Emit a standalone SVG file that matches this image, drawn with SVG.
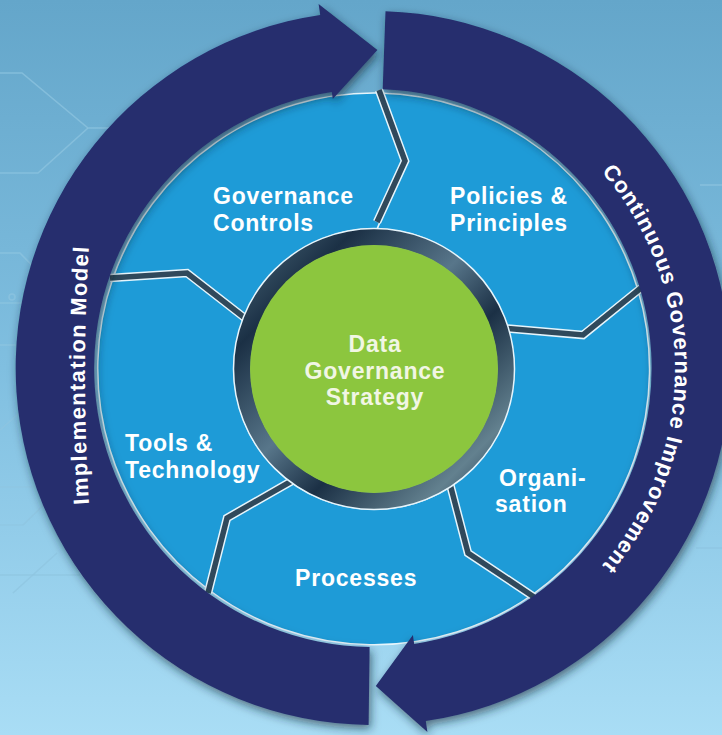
<svg xmlns="http://www.w3.org/2000/svg" width="722" height="735" viewBox="0 0 722 735">
  <defs>
    <linearGradient id="bg" x1="0" y1="0" x2="0" y2="1">
      <stop offset="0" stop-color="#64a6ca"/>
      <stop offset="0.5" stop-color="#80bfe0"/>
      <stop offset="1" stop-color="#a9ddf5"/>
    </linearGradient>
    <linearGradient id="metal" x1="0" y1="0" x2="1" y2="1">
      <stop offset="0" stop-color="#4c6a7c"/>
      <stop offset="0.2" stop-color="#1b3045"/>
      <stop offset="0.45" stop-color="#58768a"/>
      <stop offset="0.62" stop-color="#1b3045"/>
      <stop offset="0.85" stop-color="#63818f"/>
      <stop offset="1" stop-color="#1f354a"/>
    </linearGradient>
    <filter id="shadow" x="-20%" y="-20%" width="140%" height="140%">
      <feDropShadow dx="2" dy="4" stdDeviation="5" flood-color="#0b2535" flood-opacity="0.6"/>
    </filter>
    <path id="pLeft" d="M 89,505 A 2114 2114 0 0 1 89,245"/>
    <path id="pRight" d="M 567.5,138.4 A 301 301 0 0 1 567.5,599.6"/>
    <style>
      .circuit { fill: none; stroke: #8fc4e0; stroke-width: 1.6; opacity: 0.7; }
      .seg { fill: #1e9bd7; stroke: #e6f5fc; stroke-width: 1.5; stroke-linejoin: round; }
      .divw { fill: none; stroke: #e6f5fc; stroke-width: 8.5; stroke-linejoin: miter; }
      .divd { fill: none; stroke: #30495b; stroke-width: 5.5; stroke-linejoin: miter; }
      .arrow { fill: #252f6e; }
      .lbl { font-family: "Liberation Sans", Arial, sans-serif; font-weight: bold; font-size: 23px; letter-spacing: 0.8px; fill: #ffffff; }
      .ctr { font-family: "Liberation Sans", Arial, sans-serif; font-weight: bold; font-size: 23px; letter-spacing: 0.8px; fill: #f1f6e4; text-anchor: middle; }
      .arc { font-family: "Liberation Sans", Arial, sans-serif; font-weight: bold; font-size: 22px; fill: #ffffff; }
    </style>
  </defs>

  <g id="background">
    <rect x="0" y="0" width="722" height="735" fill="url(#bg)"/>
    <path class="circuit" d="M0,73 H22 L88,128 H114"/>
    <path class="circuit" d="M0,173 H38 L88,128"/>
    <path class="circuit" d="M0,253 H20 L46,280"/>
    <circle cx="12" cy="297" r="3" fill="none" stroke="#8fc4e0" stroke-width="1.6" opacity="0.7"/>
    <path class="circuit" d="M0,303 H33 L58,283"/>
    <path class="circuit" d="M0,345 H30 L60,322"/>
    <path class="circuit" d="M0,430 L40,395 H60"/>
    <path class="circuit" d="M0,487 H40 L60,470"/>
    <path class="circuit" d="M0,525 H23 L52,497"/>
    <path class="circuit" d="M0,575 H80"/>
    <path class="circuit" d="M13,593 L57,553"/>
    <path class="circuit" d="M700,185 H722"/>
    <path class="circuit" d="M696,548 H722"/>
  </g>

  <g id="seg-policies">
    <path class="seg" d="M379,93 A276,276 0 0 1 638,290 L583,335 L508,330 A140,140 0 0 0 377,229 L405,161 Z"/>
    <text class="lbl" x="450" y="204">Policies &amp;</text>
    <text class="lbl" x="450" y="231">Principles</text>
  </g>
  <g id="seg-organisation">
    <path class="seg" d="M638,290 A276,276 0 0 1 532,595 L468,553 L451,486 A140,140 0 0 0 508,330 L583,335 Z"/>
    <text class="lbl" x="499" y="486">Organi-</text>
    <text class="lbl" x="495" y="512">sation</text>
  </g>
  <g id="seg-processes">
    <path class="seg" d="M532,595 A276,276 0 0 1 209,590 L227,518 L291,482 A140,140 0 0 0 451,486 L468,553 Z"/>
    <text class="lbl" x="295" y="586">Processes</text>
  </g>
  <g id="seg-tools">
    <path class="seg" d="M209,590 A276,276 0 0 1 113,278 L187,273 L244,318 A140,140 0 0 0 291,482 L227,518 Z"/>
    <text class="lbl" x="125" y="451">Tools &amp;</text>
    <text class="lbl" x="125" y="478">Technology</text>
  </g>
  <g id="seg-governance-controls">
    <path class="seg" d="M113,278 A276,276 0 0 1 379,93 L405,161 L377,229 A140,140 0 0 0 244,318 L187,273 Z"/>
    <text class="lbl" x="213" y="204">Governance</text>
    <text class="lbl" x="213" y="231">Controls</text>
  </g>

  <g id="dividers">
    <polyline class="divw" points="379,90 405,161 377,222"/>
    <polyline class="divd" points="379,90 405,161 377,222"/>
    <polyline class="divw" points="110,278 187,273 250,322"/>
    <polyline class="divd" points="110,278 187,273 250,322"/>
    <polyline class="divw" points="208,593 227,518 297,478"/>
    <polyline class="divd" points="208,593 227,518 297,478"/>
    <polyline class="divw" points="534,597 468,553 449,480"/>
    <polyline class="divd" points="534,597 468,553 449,480"/>
    <polyline class="divw" points="641,288 583,335 501,328"/>
    <polyline class="divd" points="641,288 583,335 501,328"/>
  </g>

  <g id="hub">
    <circle cx="374" cy="369" r="132" fill="none" stroke="url(#metal)" stroke-width="17"/>
    <circle cx="374" cy="369" r="140.5" fill="none" stroke="#e6f5fc" stroke-width="1.5"/>
    <circle cx="374" cy="369" r="124" fill="#8cc63e"/>
    <text class="ctr" x="375" y="352">Data</text>
    <text class="ctr" x="375" y="378.5">Governance</text>
    <text class="ctr" x="375" y="405">Strategy</text>
  </g>

  <g id="connectors">
    <g id="arrow-implementation-model">
      <path class="arrow" filter="url(#shadow)" d="M369.6,647.0 L368.6,725.0 A357,357 0 0 1 320.2,14.9 L318.6,4.0 L377.4,50.0 L332.8,99.0 L331.8,92.1 A279,279 0 0 0 369.6,647.0 Z"/>
      <text class="arc" letter-spacing="1.3"><textPath href="#pLeft" startOffset="50%" text-anchor="middle">Implementation Model</textPath></text>
    </g>
    <g id="arrow-continuous-improvement">
      <path class="arrow" filter="url(#shadow)" d="M382.7,89.2 L385.5,11.2 A357,357 0 0 1 425.8,721.1 L427.4,732.0 L375.8,686.0 L412.9,635.0 L414.2,643.9 A279,279 0 0 0 382.7,89.2 Z"/>
      <text class="arc" letter-spacing="0.9"><textPath href="#pRight" startOffset="50%" text-anchor="middle">Continuous Governance Improvement</textPath></text>
    </g>
  </g>
</svg>
